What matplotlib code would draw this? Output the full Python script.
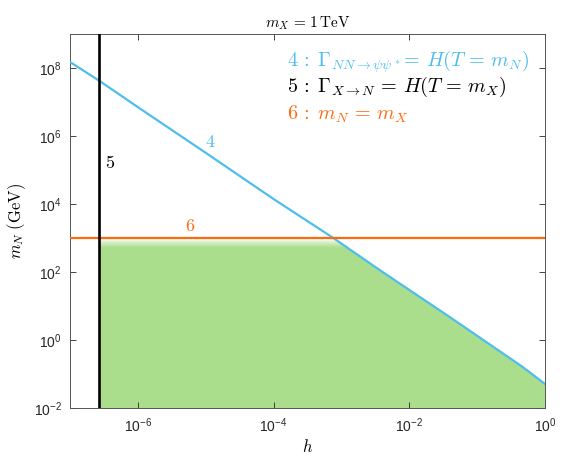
import numpy as np
import matplotlib.pyplot as plt
from matplotlib.ticker import FixedLocator, FuncFormatter, NullLocator

plt.rcParams['mathtext.fontset'] = 'cm'
plt.rcParams['font.family'] = ['Liberation Sans', 'DejaVu Sans']

# curve 4: Gamma_{NN->psi psi*} = H(T = m_N)
h4 = [1e-7, 2.7e-7, 1.1e-6, 1e-5, 1e-4, 7.6e-4, 3.9e-3, 3.8e-2, 0.46, 0.58, 1.0]
m4 = [1.5e8, 4.2e7, 6.2e6, 3.2e5, 1.4e4, 1.0e3, 1.05e2, 5.0, 0.166, 0.117, 0.051]

# curve 5: Gamma_{X->N} = H(T = m_X), vertical line
h5 = 2.7e-7
# curve 6: m_N = m_X
m6 = 1e3

xticks = [1e-6, 1e-4, 1e-2, 1e0]
yticks = [1e-2, 1e0, 1e2, 1e4, 1e6, 1e8]

c_blue = '#4DBEEE'
c_orange = '#FF6A10'
c_green = np.array([0.667, 0.871, 0.549])

fig = plt.figure(figsize=(5.86, 4.59), dpi=100)
ax = fig.add_axes([0.1195, 0.111, 0.8105, 0.815])
ax.set_xscale('log')
ax.set_yscale('log')
ax.set_xlim(1e-7, 1)
ax.set_ylim(1e-2, 1e9)

# allowed region
h4a = np.array(h4)
m4a = np.array(m4)
mask = h4a >= h5
hf = h4a[mask]
top = np.minimum(m4a[mask], m6)
poly = ax.fill_between(hf, 1e-2, top, color=c_green, lw=0, zorder=1)
clip = poly.get_paths()[0]

# fade towards white just under m_N = m_X
n = 14
levels = np.logspace(2.72, 3.0, n + 1)
for i in range(n):
    f = (i + 0.5) / n
    col = c_green * (1 - f) + np.ones(3) * f
    band = ax.fill_between([h5, 1], levels[i], levels[i + 1], color=col, lw=0, zorder=1.1)
    band.set_clip_path(clip, ax.transData)

ax.plot(h4, m4, color=c_blue, lw=1.6, zorder=3)
ax.axhline(m6, color=c_orange, lw=1.6, zorder=3)
ax.axvline(h5, color='black', lw=1.9, zorder=4)

ax.text(1.15e-5, 6.6e5, '$4$', color=c_blue, fontsize=13, ha='center', va='center')
ax.text(3.3e-7, 1.6e5, '$5$', color='black', fontsize=13, ha='left', va='center')
ax.text(5.9e-6, 2.2e3, '$6$', color=c_orange, fontsize=13, ha='center', va='center')

lx = 0.457
ax.text(lx, 0.925, r'$4\,:\;\Gamma_{NN\rightarrow\psi\psi^*}\!=\,H(T\,=\,m_N)$', color=c_blue,
        fontsize=14.5, transform=ax.transAxes, ha='left', va='center')
ax.text(lx, 0.858, r'$5\,:\;\Gamma_{X\rightarrow N}\,=\,H(T\,=\,m_X)$', color='black',
        fontsize=14.5, transform=ax.transAxes, ha='left', va='center')
ax.text(lx, 0.786, r'$6\,:\;m_N\,=\,m_X$', color=c_orange,
        fontsize=14.5, transform=ax.transAxes, ha='left', va='center')

ax.set_title(r'$m_X\,=\,1\,\mathrm{TeV}$', fontsize=11, pad=5)
ax.set_xlabel('$h$', fontsize=12, labelpad=2)
ax.set_ylabel(r'$m_N\ (\mathrm{GeV})$', fontsize=12, labelpad=4)


def fmt(v, pos):
    e = int(round(np.log10(v)))
    return r'$\mathregular{10^{%d}}$' % e


ax.xaxis.set_major_locator(FixedLocator(xticks))
ax.yaxis.set_major_locator(FixedLocator(yticks))
ax.xaxis.set_minor_locator(NullLocator())
ax.yaxis.set_minor_locator(NullLocator())
ax.xaxis.set_major_formatter(FuncFormatter(fmt))
ax.yaxis.set_major_formatter(FuncFormatter(fmt))
ax.tick_params(direction='in', top=True, right=True, length=4, width=0.6,
               color='#262626', labelcolor='#262626', labelsize=10, pad=6)
for s in ax.spines.values():
    s.set_color('#555555')
    s.set_linewidth(0.7)

fig.savefig('out.png', dpi=100)
